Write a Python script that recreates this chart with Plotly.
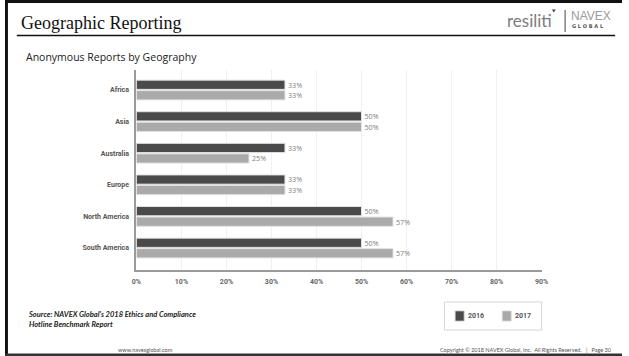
import plotly.graph_objects as go

# Share of reports submitted anonymously, by region
regions = ["Africa", "Asia", "Australia", "Europe", "North America", "South America"]
pct_2016 = [33, 50, 33, 33, 50, 50]
pct_2017 = [33, 50, 25, 33, 57, 57]
series_names = ["2016", "2017"]
x_ticks = [0, 10, 20, 30, 40, 50, 60, 70, 80, 90]

W, H = 629, 356
DARK, LIGHT = "#4a4a4a", "#aaaaaa"


def px(x):
    return x / W


def py(y):
    return 1 - y / H


fig = go.Figure()
for name, vals, col in [(series_names[0], pct_2016, DARK), (series_names[1], pct_2017, LIGHT)]:
    fig.add_trace(go.Bar(
        y=regions, x=vals, name=name, orientation="h",
        marker=dict(color=col, line=dict(color="#e2e2e2", width=1)),
        text=[f"{v}%" for v in vals], textposition="outside",
        textfont=dict(family="Open Sans", size=8.5, color="#7c7c7c"),
        cliponaxis=False, showlegend=False,
    ))

shapes = [
    # slide frame
    dict(type="rect", xref="paper", yref="paper", x0=px(0), x1=px(3), y0=py(356), y1=py(0),
         fillcolor="#111", line=dict(width=0)),
    dict(type="rect", xref="paper", yref="paper", x0=px(0), x1=px(629), y0=py(3), y1=py(0),
         fillcolor="#111", line=dict(width=0)),
    dict(type="rect", xref="paper", yref="paper", x0=px(0), x1=px(629), y0=py(356), y1=py(353.5),
         fillcolor="#333", line=dict(width=0)),
    # title rule
    dict(type="line", xref="paper", yref="paper", x0=px(12), x1=px(622), y0=py(35.5), y1=py(35.5),
         line=dict(color="#111", width=1.3)),
    # logo mark and separator
    dict(type="path", xref="paper", yref="paper",
         path=f"M {px(557.5)} {py(9.5)} L {px(561.5)} {py(9.5)} L {px(559.5)} {py(12.5)} Z",
         fillcolor="#444", line=dict(width=0)),
    dict(type="line", xref="paper", yref="paper", x0=px(571), x1=px(571), y0=py(10), y1=py(32),
         line=dict(color="#444", width=1)),
    # legend box
    dict(type="rect", xref="paper", yref="paper", x0=px(448), x1=px(547), y0=py(330), y1=py(302),
         line=dict(color="#d6d6d6", width=1), fillcolor="white"),
    dict(type="rect", xref="paper", yref="paper", x0=px(459), x1=px(468), y0=py(321), y1=py(311),
         line=dict(color="#bbbbbb", width=0.8), fillcolor=DARK),
    dict(type="rect", xref="paper", yref="paper", x0=px(507), x1=px(516), y0=py(321), y1=py(311),
         line=dict(color="#d0d0d0", width=0.8), fillcolor=LIGHT),
]

annotations = [
    dict(text="Geographic Reporting", x=px(14), y=py(23), xanchor="left", yanchor="middle",
         font=dict(family="Liberation Serif", size=18, color="#111")),
    dict(text="Anonymous Reports by Geography", x=px(19), y=py(57), xanchor="left", yanchor="middle",
         font=dict(family="Open Sans", size=10.5, color="#222")),
    dict(text="resiliti", x=px(510), y=py(21), xanchor="left", yanchor="middle",
         font=dict(family="Lato", size=17, color="#7d7d7d")),
    dict(text="NAVEX", x=px(575), y=py(16), xanchor="left", yanchor="middle",
         font=dict(family="Liberation Sans", size=12, color="#9a9a9a")),
    dict(text="G L O B A L", x=px(576), y=py(26.5), xanchor="left", yanchor="middle",
         font=dict(family="DejaVu Sans", size=5, color="#555", weight="bold")),
    dict(text="<b><i>Source: NAVEX Global's 2018 Ethics and Compliance<br>Hotline Benchmark Report</i></b>",
         x=px(21), y=py(319.5), xanchor="left", yanchor="middle", align="left",
         font=dict(family="Lato", size=7.5, color="#222")),
    dict(text=series_names[0], x=px(470), y=py(316), xanchor="left", yanchor="middle",
         font=dict(family="Roboto", size=7, color="#555", weight="bold")),
    dict(text=series_names[1], x=px(518), y=py(316), xanchor="left", yanchor="middle",
         font=dict(family="Roboto", size=7, color="#555", weight="bold")),
    dict(text="www.navexglobal.com", x=px(143), y=py(350), xanchor="center", yanchor="middle",
         font=dict(family="Lato", size=5.5, color="#555")),
    dict(text="Copyright © 2018 NAVEX Global, Inc.\u00a0\u00a0All Rights Reserved.\u00a0\u00a0\u00a0|\u00a0\u00a0\u00a0Page 30",
         x=px(621), y=py(350), xanchor="right", yanchor="middle",
         font=dict(family="Lato", size=5.5, color="#555")),
]
for a in annotations:
    a.update(xref="paper", yref="paper", showarrow=False)

fig.update_layout(
    width=W, height=H, autosize=False,
    margin=dict(l=0, r=0, t=0, b=0, pad=0),
    paper_bgcolor="white", plot_bgcolor="white",
    barmode="group", bargap=0.335, bargroupgap=0.12,
    shapes=shapes, annotations=annotations,
    xaxis=dict(
        domain=[px(134), px(547)], range=[0, 90], tickvals=x_ticks,
        ticktext=[f"{t}%" for t in x_ticks],
        showgrid=True, gridcolor="#f0f0f0", gridwidth=1, zeroline=False,
        showline=True, linecolor="#9a9a9a", linewidth=2, ticks="",
        tickfont=dict(family="Roboto", size=7, color="#666", weight="bold"),
        ticklabelstandoff=4, fixedrange=True,
    ),
    yaxis=dict(
        domain=[py(270), py(70)], type="category", categoryorder="array",
        categoryarray=regions, range=[5.696, -0.633],
        showgrid=False, zeroline=False, showline=True, linecolor="#9a9a9a", linewidth=2,
        ticks="", tickfont=dict(family="Roboto", size=7, color="#555", weight="bold"),
        ticklabelstandoff=4, fixedrange=True,
    ),
)

fig.write_html(
    "out.html",
    post_script="document.body.style.margin='0';document.body.style.overflow='hidden';",
)
